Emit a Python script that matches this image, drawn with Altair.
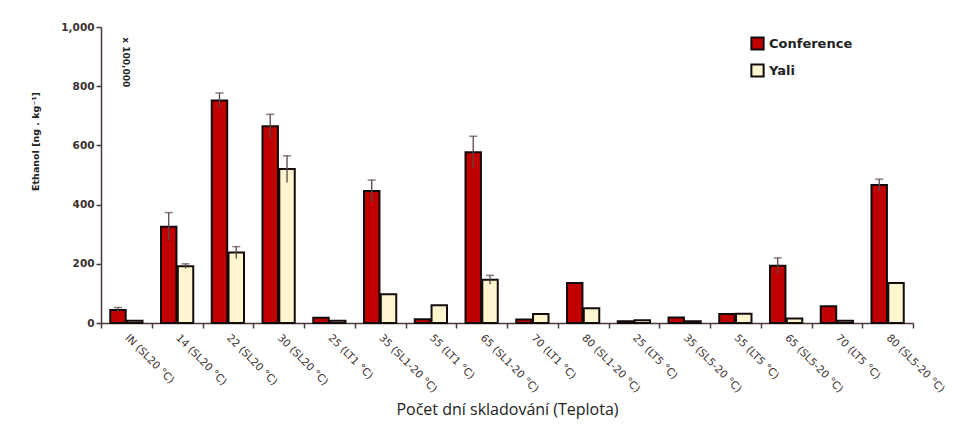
import altair as alt
import pandas as pd

categories = ["IN (SL20 °C)", "14 (SL20 °C)", "22 (SL20 °C)", "30 (SL20 °C)",
              "25 (LT1 °C)", "35 (SL1-20 °C)", "55 (LT1 °C)", "65 (SL1-20 °C)",
              "70 (LT1 °C)", "80 (SL1-20 °C)", "25 (LT5 °C)", "35 (SL5-20 °C)",
              "55 (LT5 °C)", "65 (SL5-20 °C)", "70 (LT5 °C)", "80 (SL5-20 °C)"]
conference = [44, 325, 752, 665, 18, 446, 13, 577, 12, 135, 6, 19, 30, 193, 57, 466]
conference_sd = [8, 48, 25, 40, 0, 37, 0, 54, 0, 0, 0, 0, 0, 27, 0, 20]
yali = [8, 192, 238, 520, 8, 97, 60, 146, 30, 50, 9, 6, 31, 15, 8, 135]
yali_sd = [0, 8, 20, 45, 0, 0, 0, 15, 0, 0, 0, 0, 0, 0, 0, 0]
varieties = ["Conference", "Yali"]
colors = ["#C00000", "#FFF6CF"]

rows = []
for i, c in enumerate(categories):
    rows.append({"cat": c, "variety": "Conference", "value": conference[i],
                 "lo": conference[i] - conference_sd[i], "hi": conference[i] + conference_sd[i],
                 "sd": conference_sd[i]})
    rows.append({"cat": c, "variety": "Yali", "value": yali[i],
                 "lo": yali[i] - yali_sd[i], "hi": yali[i] + yali_sd[i], "sd": yali_sd[i]})
df = pd.DataFrame(rows)

ink = "#3b2f2f"
FONT = "DejaVu Sans"

x_enc = alt.X("cat:N", sort=categories,
              scale=alt.Scale(paddingInner=0, paddingOuter=0),
              axis=alt.Axis(title="Počet dní skladování (Teplota)", labelAngle=45,
                            labelAlign="left", labelBaseline="middle", grid=False,
                            tickBand="extent", labelFont=FONT, labelFontSize=10.5,
                            labelFontWeight=500,
                            labelColor=ink, labelPadding=8, tickSize=5,
                            titleFont="Open Sans", titleFontSize=16,
                            titleFontWeight="normal", titleColor="#222",
                            titlePadding=7))
xo_enc = alt.XOffset("variety:N", sort=varieties,
                     scale=alt.Scale(paddingInner=0.08, paddingOuter=0.55))

base = alt.Chart(df).encode(x=x_enc, xOffset=xo_enc)

bars = base.mark_bar(stroke="#140c0c", strokeWidth=2).encode(
    y=alt.Y("value:Q", scale=alt.Scale(domain=[0, 1000]),
            axis=alt.Axis(title="Ethanol [ng . kg⁻¹]", values=[0, 200, 400, 600, 800, 1000],
                          format=",d", labelFont=FONT, labelFontSize=10.5, grid=False,
                          labelFontWeight="bold", labelColor=ink, tickSize=5,
                          titleFont=FONT, titleFontSize=9.5, titleFontWeight="bold",
                          titleColor="#222", titleAngle=270, titleX=-66, titleY=114,
                          titleAlign="center", titleBaseline="middle")),
    color=alt.Color("variety:N", sort=varieties,
                    scale=alt.Scale(domain=varieties, range=colors),
                    legend=alt.Legend(title=None, orient="none", legendX=649, legendY=9,
                                      symbolType="square", symbolSize=150,
                                      symbolStrokeColor="#140c0c", symbolStrokeWidth=2,
                                      labelFont=FONT, labelFontSize=13,
                                      labelFontWeight="bold", labelColor="#222",
                                      rowPadding=6, padding=0, labelOffset=4)),
)

err = base.transform_filter("datum.sd > 0")
rules = err.mark_rule(color="#5a4646", strokeWidth=1.3).encode(
    y=alt.Y("lo:Q"), y2="hi:Q")
caps = err.mark_tick(color="#5a4646", thickness=1.5, size=8, orient="horizontal").encode(
    y=alt.Y("hi:Q"))

note_df = pd.DataFrame({"cat": [categories[0]], "v": [965], "t": ["x 100,000"]})
note = alt.Chart(note_df).mark_text(angle=90, align="left", baseline="middle",
                                    font=FONT, fontSize=9, fontWeight="bold",
                                    color="#222").encode(
    x=alt.X("cat:N", sort=categories), y=alt.Y("v:Q"), text="t:N")

chart = alt.layer(bars, rules, caps, note).properties(
    width=812, height=296,
    background="white",
    autosize=alt.AutoSizeParams(type="none"),
    padding={"left": 93, "top": 19, "right": 35, "bottom": 97},
).configure_view(stroke=None).configure_axis(
    grid=False, domainColor="#4a3a3a", tickColor="#4a3a3a", domainWidth=1.5, tickWidth=1.5
)

chart.save("out.html", embed_options={"renderer": "svg", "actions": False})
